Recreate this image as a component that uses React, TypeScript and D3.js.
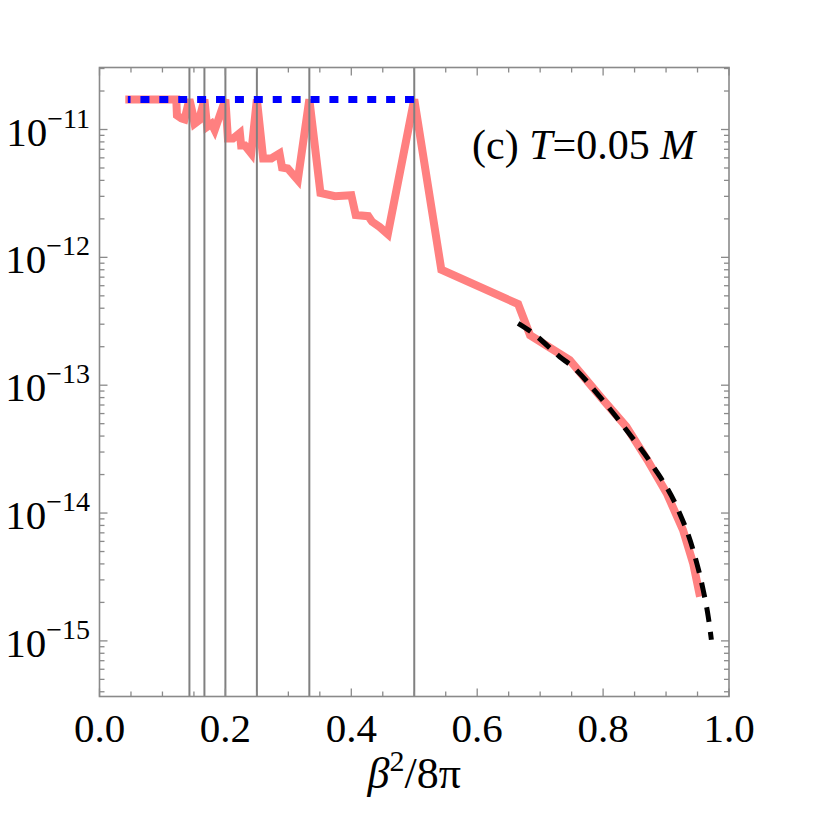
import React from "react";
import * as d3 from "d3";

// values
const poles = [1 / 7, 1 / 6, 1 / 5, 1 / 4, 1 / 3, 1 / 2];

const rateX = [
  0.041, 0.122, 0.123, 0.13, 0.135, 1 / 7, 0.148, 0.151, 0.158, 1 / 6,
  0.171, 0.178, 0.183, 0.2, 0.204, 0.212, 0.223, 0.225, 0.231, 0.241,
  0.25, 0.26, 0.273, 0.286, 0.29, 0.299, 0.315, 1 / 3, 0.351, 0.374,
  0.4, 0.407, 0.427, 0.433, 0.445, 0.458, 0.5, 0.543, 0.665, 0.684,
  0.747, 0.798, 0.837, 0.872, 0.901, 0.927, 0.943, 0.954,
];
const rateY = [
  1.72e-11, 1.72e-11, 1.29e-11, 1.22e-11, 1.2e-11, 1.72e-11, 1.33e-11, 1.11e-11, 1.18e-11, 1.72e-11,
  1.05e-11, 1.11e-11, 9.9e-12, 1.72e-11, 8.5e-12, 8.5e-12, 9.4e-12, 7.5e-12, 7.5e-12, 6.5e-12,
  1.72e-11, 5.93e-12, 5.93e-12, 6.5e-12, 5.05e-12, 4.96e-12, 4.02e-12, 1.72e-11, 3.19e-12, 3.01e-12,
  3.06e-12, 2.14e-12, 2.1e-12, 1.9e-12, 1.73e-12, 1.52e-12, 1.72e-11, 8.0e-13, 4.31e-13, 2.46e-13,
  1.57e-13, 7.88e-14, 4.73e-14, 2.52e-14, 1.43e-14, 7.36e-15, 4.05e-15, 2.22e-15,
];

const boundX = [0.045, 0.5];
const boundY = [1.72e-11, 1.72e-11];

const asymX = [0.665, 0.689, 0.731, 0.752, 0.795, 0.837, 0.88, 0.917, 0.943, 0.959, 0.967, 0.972];
const asymY = [3.04e-13, 2.54e-13, 1.67e-13, 1.39e-13, 8.1e-14, 4.46e-14, 2.3e-14, 1.12e-14, 5.14e-15, 2.5e-15, 1.55e-15, 1.02e-15];

const xTicks = [0, 0.2, 0.4, 0.6, 0.8, 1.0];
const xMinor = [0.05, 0.1, 0.15, 0.25, 0.3, 0.35, 0.45, 0.5, 0.55, 0.65, 0.7, 0.75, 0.85, 0.9, 0.95];
const yExp = [-11, -12, -13, -14, -15];

const W = 830;
const H = 824;
const left = 99.5, right = 729, top = 67.5, bottom = 696.5;
const frameColor = "#8a8a8a";
const serif = "'Liberation Serif', 'DejaVu Serif', serif";

const App = () => {
  const x = d3.scaleLinear().domain([0, 1]).range([left, right]);
  const y = d3.scaleLog().domain([Math.pow(10, -15.435), Math.pow(10, -10.515)]).range([bottom, top]);

  const yMinor: number[] = [];
  for (let d = -16; d <= -11; d++) {
    for (let m = 2; m <= 9; m++) {
      const v = m * Math.pow(10, d);
      if (y(v) >= top - 0.5 && y(v) <= bottom + 0.5) yMinor.push(v);
    }
  }

  const line = d3.line<[number, number]>().x(d => x(d[0])).y(d => y(d[1]));
  const smooth = d3.line<[number, number]>().x(d => x(d[0])).y(d => y(d[1])).curve(d3.curveMonotoneX);

  const ratePts = rateX.map((v, i) => [v, rateY[i]] as [number, number]);
  const boundPts = boundX.map((v, i) => [v, boundY[i]] as [number, number]);
  const asymPts = asymX.map((v, i) => [v, asymY[i]] as [number, number]);

  const majorLen = 8, minorLen = 5;

  return (
    <svg width={W} height={H} style={{ position: "absolute", left: 0, top: 0, background: "white" }}>
      <rect x={0} y={0} width={W} height={H} fill="white" />

      <path d={line(ratePts) || ""} fill="none" stroke="#ff8080" strokeWidth={8} strokeLinejoin="miter" strokeMiterlimit={3} />

      {poles.map((p, i) => (
        <line key={"p" + i} x1={x(p)} x2={x(p)} y1={top} y2={bottom} stroke="#808080" strokeWidth={2} />
      ))}

      <path d={line(boundPts) || ""} fill="none" stroke="#0000ff" strokeWidth={7} strokeDasharray="9 9.9" strokeDashoffset={6.3} />
      <path d={smooth(asymPts) || ""} fill="none" stroke="#000" strokeWidth={5} strokeDasharray="15 10" />

      {/* frame */}
      <rect x={left} y={top} width={right - left} height={bottom - top} fill="none" stroke={frameColor} strokeWidth={1.6} />

      {xTicks.map((t, i) => (
        <g key={"xt" + i}>
          <line x1={x(t)} x2={x(t)} y1={bottom} y2={bottom - majorLen} stroke={frameColor} strokeWidth={1.3} />
          <line x1={x(t)} x2={x(t)} y1={top} y2={top + majorLen} stroke={frameColor} strokeWidth={1.3} />
        </g>
      ))}
      {xMinor.map((t, i) => (
        <g key={"xm" + i}>
          <line x1={x(t)} x2={x(t)} y1={bottom} y2={bottom - minorLen} stroke={frameColor} strokeWidth={1.3} />
          <line x1={x(t)} x2={x(t)} y1={top} y2={top + minorLen} stroke={frameColor} strokeWidth={1.3} />
        </g>
      ))}
      {yExp.map((e, i) => (
        <g key={"yt" + i}>
          <line x1={left} x2={left + majorLen} y1={y(Math.pow(10, e))} y2={y(Math.pow(10, e))} stroke={frameColor} strokeWidth={1.3} />
          <line x1={right} x2={right - majorLen} y1={y(Math.pow(10, e))} y2={y(Math.pow(10, e))} stroke={frameColor} strokeWidth={1.3} />
        </g>
      ))}
      {yMinor.map((v, i) => (
        <g key={"ym" + i}>
          <line x1={left} x2={left + minorLen} y1={y(v)} y2={y(v)} stroke={frameColor} strokeWidth={1.3} />
          <line x1={right} x2={right - minorLen} y1={y(v)} y2={y(v)} stroke={frameColor} strokeWidth={1.3} />
        </g>
      ))}

      {/* tick labels */}
      {xTicks.map((t, i) => (
        <text key={"xl" + i} x={x(t)} y={bottom + 45} textAnchor="middle" fontFamily={serif} fontSize={41} fill="#000">
          {t.toFixed(1)}
        </text>
      ))}
      {yExp.map((e, i) => (
        <text key={"yl" + i} x={90} y={y(Math.pow(10, e)) + 16} textAnchor="end" fontFamily={serif} fontSize={41} fill="#000">
          10
          <tspan fontSize={28} dy={-18}>{"\u2212" + Math.abs(e)}</tspan>
        </text>
      ))}

      {/* axis title */}
      <text x={(left + right) / 2} y={788} textAnchor="middle" fontFamily={serif} fontSize={44} fill="#000">
        <tspan fontStyle="italic">β</tspan>
        <tspan fontSize={30} dy={-17}>2</tspan>
        <tspan dy={17}>/8π</tspan>
      </text>

      {/* annotation */}
      <text x={472} y={159} fontFamily={serif} fontSize={42} fill="#000">
        (c) <tspan fontStyle="italic">T</tspan>=0.05 <tspan fontStyle="italic">M</tspan>
      </text>
    </svg>
  );
};

export default App;
